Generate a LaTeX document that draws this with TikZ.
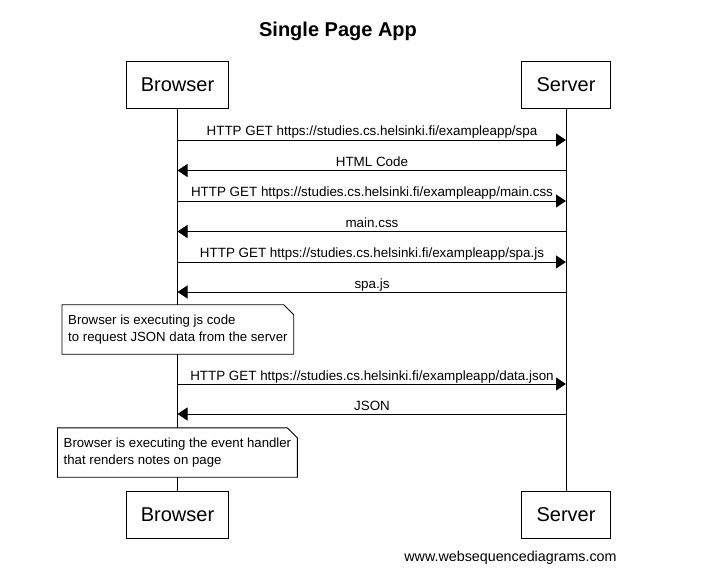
\documentclass[tikz,border=0pt]{standalone}
\usepackage{fontspec}
\setmainfont[Ligatures=NoCommon]{Liberation Sans}
\usetikzlibrary{arrows.meta,positioning}

\tikzset{
  actor/.style={draw, line width=0.9pt, minimum height=47pt, inner sep=0pt,
    font=\fontsize{20}{22}\selectfont},
  title/.style={anchor=base, font=\fontsize{20}{22}\selectfont\bfseries},
  lbl/.style={anchor=base, inner sep=0pt, font=\fontsize{13.4}{15}\selectfont},
  msg/.style={line width=0.9pt, -{Triangle[length=10pt,width=13pt]}},
  note/.style={anchor=west, fill=white, inner xsep=6pt, inner ysep=0pt,
    minimum height=49pt, align=left, font=\fontsize{13.2}{16.5}\selectfont},
}

\begin{document}
\begin{tikzpicture}[x=1pt,y=-1pt]
    \useasboundingbox (0,0) rectangle (726,588);

    \node[title] (title) at (338,37) {Single Page App};

    % participants, top and bottom
    \node[actor, minimum width=102pt] (browser) at (177.5,84.5) {Browser};
    \node[actor, minimum width=89pt] (server) at (566,84.5) {Server};
    \node[actor, minimum width=102pt] (browser2) at (177.5,514.5) {Browser};
    \node[actor, minimum width=89pt] (server2) at (566,514.5) {Server};

    \draw[line width=0.9pt] (browser) -- (browser2);
    \draw[line width=0.9pt] (server) -- (server2);

    % points on the lifelines
    \foreach \i/\y in {1/140,2/170.5,3/201,4/231.5,5/262,6/292,7/384,8/414} {
        \coordinate (b\i) at (177.5,\y);
        \coordinate (s\i) at (566,\y);
    }

    \draw[msg] (b1) -- (s1);
    \node[lbl] (m1) at (372,136) {HTTP GET https://studies.cs.helsinki.fi/exampleapp/spa};
    \draw[msg] (s2) -- (b2);
    \node[lbl] (m2) at (372,166.5) {HTML Code};
    \draw[msg] (b3) -- (s3);
    \node[lbl] (m3) at (372,197) {HTTP GET https://studies.cs.helsinki.fi/exampleapp/main.css};
    \draw[msg] (s4) -- (b4);
    \node[lbl] (m4) at (372,227.5) {main.css};
    \draw[msg] (b5) -- (s5);
    \node[lbl] (m5) at (372,258) {HTTP GET https://studies.cs.helsinki.fi/exampleapp/spa.js};
    \draw[msg] (s6) -- (b6);
    \node[lbl] (m6) at (372,288) {spa.js};

    \node[note] (n1) at (62,329.5) {Browser is executing js code\\to request JSON data from the server};
    \draw[line width=0.9pt] (n1.north west) -- ([xshift=-10pt]n1.north east) -- ([yshift=-10pt]n1.north east)
        -- (n1.south east) -- (n1.south west) -- cycle;

    \draw[msg] (b7) -- (s7);
    \node[lbl] (m7) at (372,380) {HTTP GET https://studies.cs.helsinki.fi/exampleapp/data.json};
    \draw[msg] (s8) -- (b8);
    \node[lbl] (m8) at (372,410) {JSON};

    \node[note] (n2) at (57.5,452.5) {Browser is executing the event handler\\that renders notes on page};
    \draw[line width=0.9pt] (n2.north west) -- ([xshift=-10pt]n2.north east) -- ([yshift=-10pt]n2.north east)
        -- (n2.south east) -- (n2.south west) -- cycle;

    \node[lbl, font=\fontsize{14.3}{16}\selectfont] (wsd) at (510.5,561) {www.websequencediagrams.com};
\end{tikzpicture}
\end{document}
